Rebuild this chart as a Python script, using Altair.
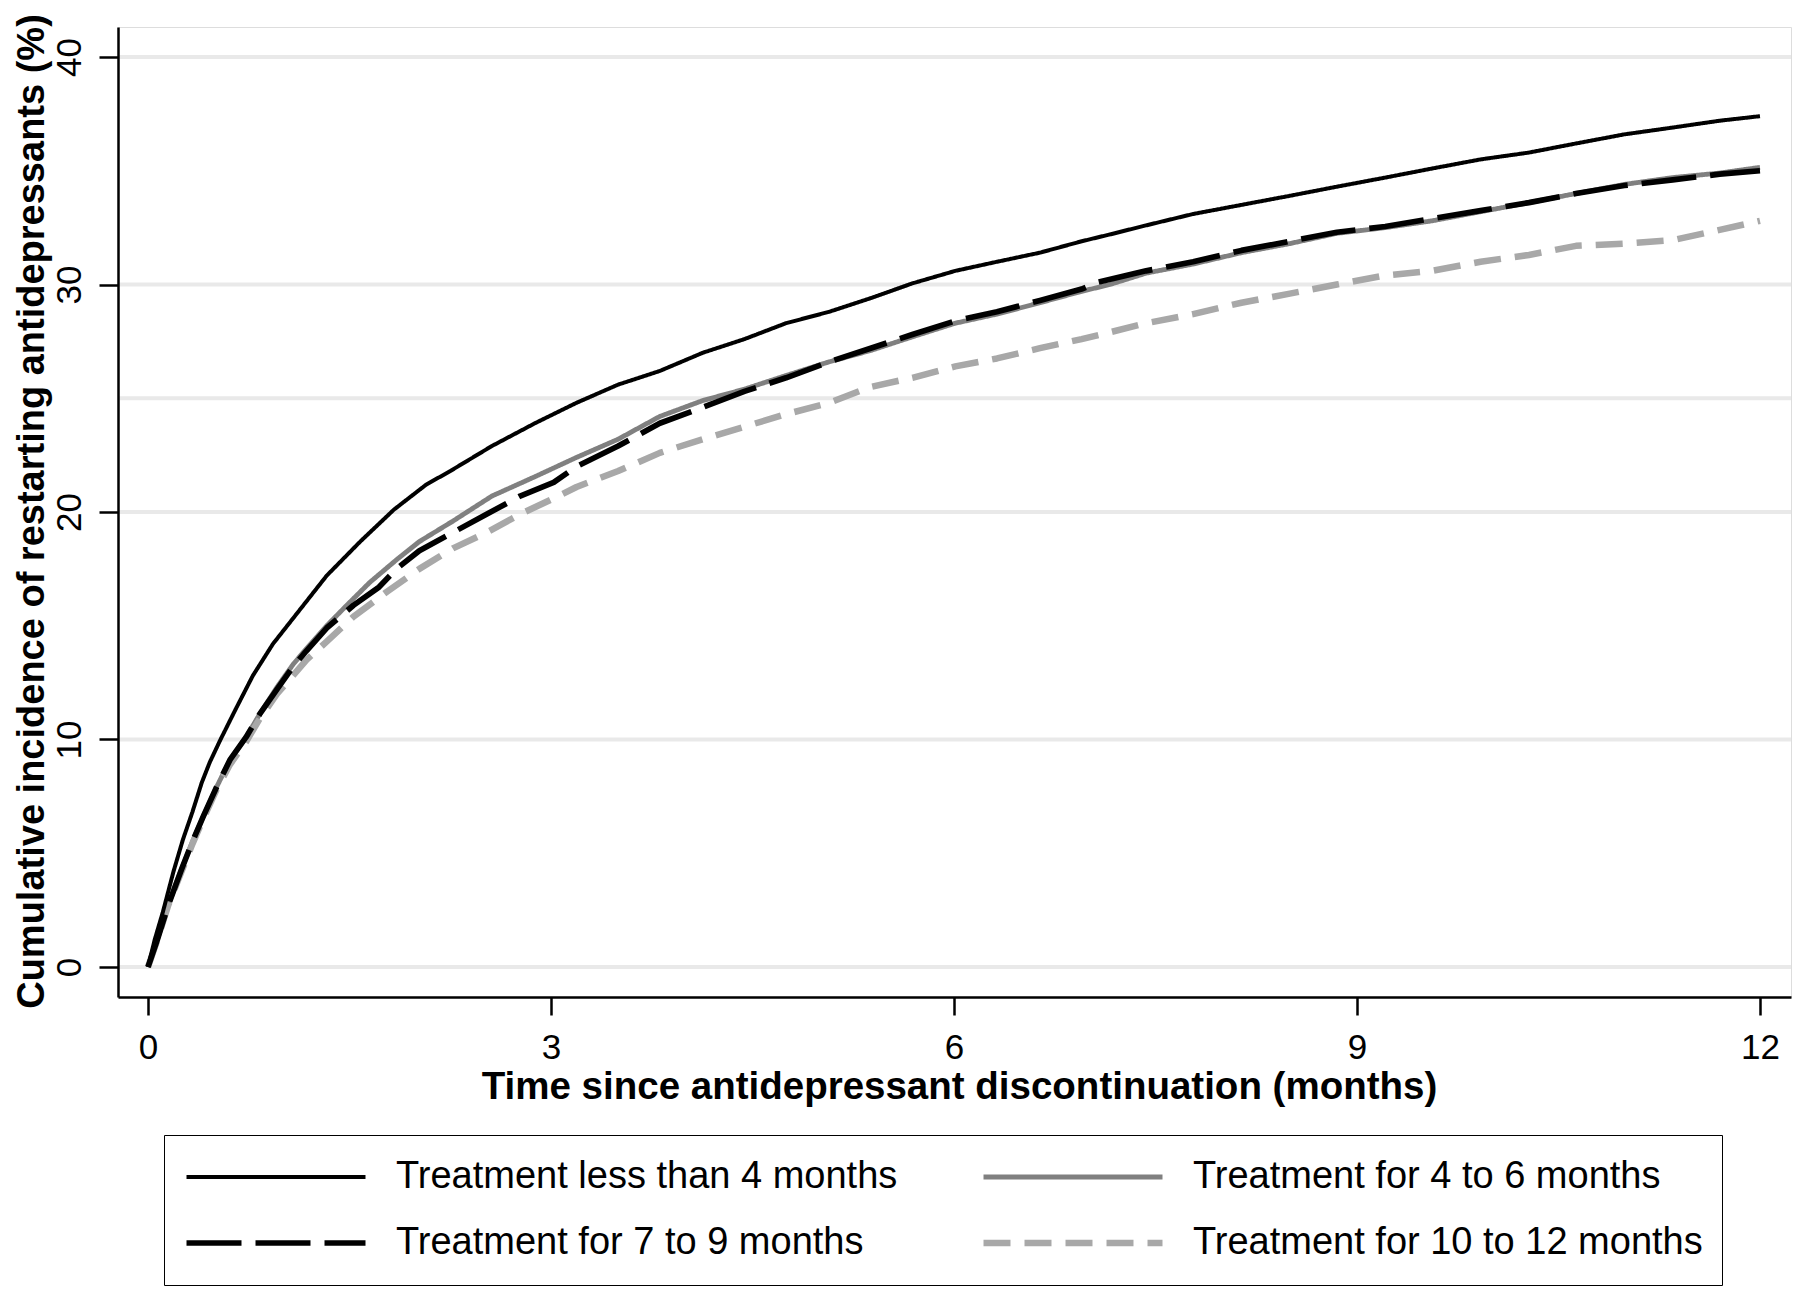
import altair as alt
import pandas as pd

# ---------------- data ----------------
SERIES = [
    "Treatment less than 4 months",
    "Treatment for 4 to 6 months",
    "Treatment for 7 to 9 months",
    "Treatment for 10 to 12 months",
]

T_LT4 = [0, 0.05, 0.11, 0.19, 0.26, 0.33, 0.40, 0.46, 0.54, 0.65, 0.78, 0.93, 1.13, 1.33,
         1.58, 1.83, 2.07, 2.25, 2.56, 2.88, 3.19, 3.50, 3.81, 4.13, 4.44, 4.75, 5.07,
         5.38, 5.69, 6.01, 6.32, 6.64, 6.95, 7.16, 7.43, 7.78, 8.14, 8.50, 8.85, 9.21,
         9.56, 9.92, 10.28, 10.63, 10.99, 11.35, 11.70, 12.0]
V_LT4 = [0, 1.2, 2.4, 4.2, 5.6, 6.8, 8.1, 9.0, 10.0, 11.3, 12.8, 14.2, 15.7, 17.2,
         18.7, 20.1, 21.2, 21.8, 22.9, 23.9, 24.8, 25.6, 26.2, 27.0, 27.6, 28.3, 28.8,
         29.4, 30.05, 30.6, 31.0, 31.4, 31.9, 32.2, 32.6, 33.1, 33.5, 33.9, 34.3, 34.7,
         35.1, 35.5, 35.8, 36.2, 36.6, 36.9, 37.2, 37.4]

T_4TO6 = [0, 0.07, 0.15, 0.25, 0.33, 0.41, 0.51, 0.61, 0.73, 0.83, 0.96, 1.08, 1.18, 1.33,
          1.48, 1.65, 1.85, 2.02, 2.27, 2.56, 2.88, 3.19, 3.50, 3.81, 4.13, 4.44, 4.75,
          5.07, 5.38, 5.69, 6.01, 6.32, 6.64, 6.95, 7.16, 7.43, 7.78, 8.14, 8.50, 8.85,
          9.21, 9.56, 9.92, 10.28, 10.63, 10.99, 11.35, 11.70, 12.0]
V_4TO6 = [0, 1.2, 2.7, 4.3, 5.5, 6.6, 7.9, 9.1, 10.1, 11.1, 12.3, 13.3, 14.0, 15.0,
          15.9, 16.9, 17.9, 18.7, 19.6, 20.7, 21.55, 22.4, 23.2, 24.2, 24.9, 25.4, 26.0,
          26.6, 27.1, 27.7, 28.3, 28.7, 29.2, 29.7, 30.0, 30.5, 30.9, 31.4, 31.8, 32.25,
          32.5, 32.8, 33.2, 33.6, 34.0, 34.4, 34.7, 34.9, 35.15]

T_7TO9 = [0, 0.07, 0.15, 0.25, 0.33, 0.41, 0.51, 0.61, 0.73, 0.83, 0.96, 1.08, 1.18, 1.33,
          1.53, 1.72, 1.85, 2.02, 2.27, 2.52, 2.77, 3.02, 3.19, 3.50, 3.81, 4.13, 4.44,
          4.75, 5.07, 5.38, 5.69, 6.01, 6.32, 6.64, 6.95, 7.07, 7.43, 7.78, 8.14, 8.50,
          8.85, 9.21, 9.56, 9.92, 10.28, 10.63, 10.99, 11.35, 11.70, 12.0]
V_7TO9 = [0, 1.2, 2.7, 4.3, 5.5, 6.6, 7.9, 9.1, 10.1, 11.1, 12.2, 13.2, 13.9, 14.9,
          15.9, 16.7, 17.5, 18.3, 19.1, 19.9, 20.7, 21.3, 22.0, 22.9, 23.9, 24.6, 25.3,
          25.9, 26.6, 27.2, 27.8, 28.4, 28.8, 29.3, 29.8, 30.1, 30.6, 31.0, 31.5, 31.9,
          32.3, 32.55, 32.9, 33.25, 33.6, 34.0, 34.35, 34.6, 34.85, 35.0]

T_10TO12 = [0, 0.07, 0.15, 0.25, 0.33, 0.41, 0.51, 0.61, 0.73, 0.83, 0.96, 1.18, 1.33,
            1.53, 1.78, 2.02, 2.27, 2.52, 2.77, 3.02, 3.19, 3.50, 3.81, 4.13, 4.44, 4.75,
            5.07, 5.38, 5.69, 6.01, 6.32, 6.64, 6.95, 7.16, 7.43, 7.78, 8.14, 8.50, 8.85,
            9.21, 9.56, 9.92, 10.28, 10.63, 10.99, 11.35, 11.70, 12.0]
V_10TO12 = [0, 1.2, 2.7, 4.2, 5.4, 6.5, 7.8, 8.9, 9.9, 10.9, 12.0, 13.5, 14.3,
            15.4, 16.5, 17.5, 18.4, 19.1, 19.9, 20.6, 21.1, 21.8, 22.6, 23.2, 23.75, 24.3,
            24.8, 25.5, 25.9, 26.4, 26.75, 27.2, 27.6, 27.9, 28.3, 28.7, 29.2, 29.6, 30.0,
            30.4, 30.6, 31.0, 31.3, 31.7, 31.8, 31.95, 32.4, 32.8]

GRID_VALUES = [0, 10, 20, 25, 30, 40]
X_TICKS = [0, 3, 6, 9, 12]
Y_TICKS = [0, 10, 20, 30, 40]

COLORS = ["#000000", "#808080", "#000000", "#a8a8a8"]
DASHES = [[1, 0], [1, 0], [55, 14], [27, 14]]
WIDTHS = [4.0, 6.5, 4.0, 3.6]

X_TITLE = "Time since antidepressant discontinuation (months)"
Y_TITLE = "Cumulative incidence of restarting antidepressants (%)"

# ---------------- build table ----------------
rows = []
for name, ts, vs in zip(SERIES, [T_LT4, T_4TO6, T_7TO9, T_10TO12],
                        [V_LT4, V_4TO6, V_7TO9, V_10TO12]):
    for t, v in zip(ts, vs):
        rows.append({"series": name, "t": t, "v": v})
df = pd.DataFrame(rows)
grid_df = pd.DataFrame({"g": GRID_VALUES})

FONT = "Liberation Sans"

x_scale = alt.Scale(domain=[-0.2233, 12.2308], nice=False, zero=False)
y_scale = alt.Scale(domain=[-1.32, 41.32], nice=False, zero=False)

x_axis = alt.Axis(
    values=X_TICKS, grid=False, tickSize=18, tickWidth=2.5, tickColor="black",
    domainColor="black", domainWidth=2.5, labelFontSize=35, labelPadding=15,
    labelColor="black", labelFlush=False, labelFont=FONT,
    titleFontSize=38.5, titleFontWeight="bold", titleColor="black", titleFont=FONT,
    titleX=841, titleY=101.5, titleAlign="center", titleBaseline="alphabetic",
    zindex=1,
)
y_axis = alt.Axis(
    values=Y_TICKS, grid=False, tickSize=19, tickWidth=2.5, tickColor="black",
    domainColor="black", domainWidth=2.5, labelFontSize=35, labelPadding=19,
    labelAngle=270, labelAlign="center", labelBaseline="alphabetic",
    labelColor="black", labelFlush=False, labelFont=FONT,
    titleFontSize=38, titleFontWeight="bold", titleColor="black", titleFont=FONT,
    titleX=-75, titleY=484, titleAngle=270, titleAlign="center",
    titleBaseline="alphabetic",
    zindex=1,
)

grid = alt.Chart(grid_df).mark_rule(color="#e9e9e9", strokeWidth=4).encode(
    y=alt.Y("g:Q", scale=y_scale, axis=y_axis, title=Y_TITLE)
)

legend = alt.Legend(
    title=None, orient="none", legendX=46, legendY=1108, columns=2,
    direction="horizontal",
    symbolType="stroke", symbolSize=32041, clipHeight=46,
    rowPadding=20, columnPadding=82, labelOffset=27, labelFontSize=38,
    labelFont=FONT, labelColor="black", labelLimit=1000,
    padding=19, strokeColor="black", fillColor="white",
)

def layer(name):
    return alt.Chart(df).transform_filter(alt.datum.series == name).mark_line(
        strokeJoin="round"
    ).encode(
        x=alt.X("t:Q", scale=x_scale, axis=x_axis, title=X_TITLE),
        y=alt.Y("v:Q", scale=y_scale, axis=y_axis, title=Y_TITLE),
        color=alt.Color("series:N", scale=alt.Scale(domain=SERIES, range=COLORS),
                        legend=legend),
        strokeDash=alt.StrokeDash("series:N",
                                  scale=alt.Scale(domain=SERIES, range=DASHES),
                                  legend=legend),
        strokeWidth=alt.StrokeWidth("series:N",
                                    scale=alt.Scale(domain=SERIES, range=WIDTHS),
                                    legend=legend),
        order=alt.Order("t:Q"),
    )

chart = alt.layer(
    grid,
    layer(SERIES[1]),
    layer(SERIES[3]),
    layer(SERIES[2]),
    layer(SERIES[0]),
).properties(
    width=1673, height=970,
    autosize=alt.AutoSizeParams(type="none"),
    padding={"left": 110, "top": 19, "right": 1, "bottom": 289},
).configure_view(
    stroke=None
).configure_legend(
    strokeWidth=2.2
).configure(
    font=FONT, background="white"
)

chart.save("out.html", embed_options={"renderer": "svg", "actions": False})
